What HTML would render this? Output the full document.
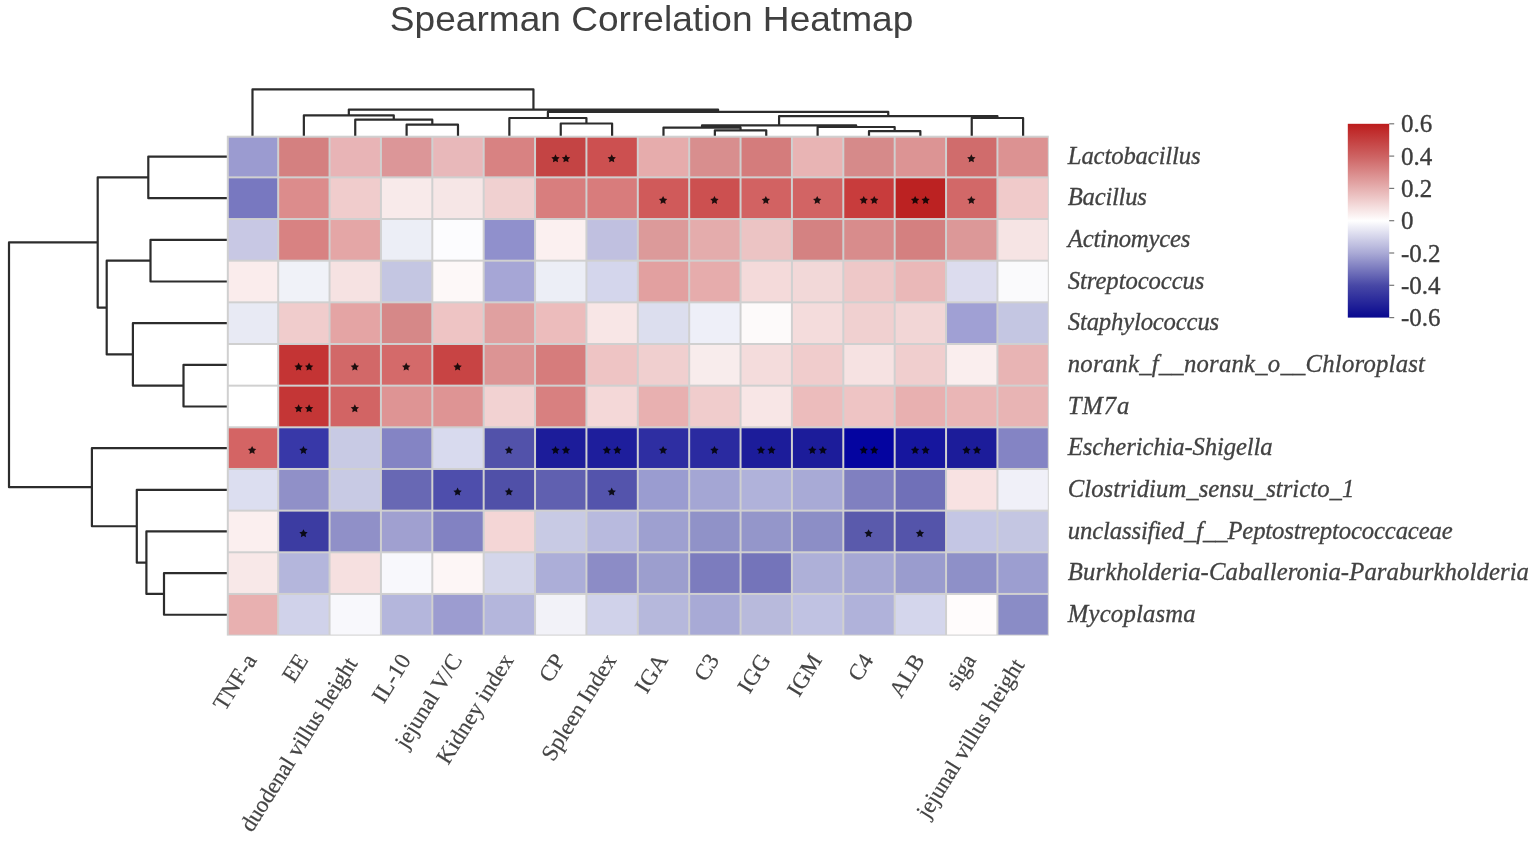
<!DOCTYPE html>
<html><head><meta charset="utf-8"><title>Spearman Correlation Heatmap</title>
<style>html,body{margin:0;padding:0;background:#fff;}body{width:1535px;height:843px;overflow:hidden;}svg{display:block;}</style>
</head><body>
<svg width="1535" height="843" viewBox="0 0 1535 843">
<rect x="226.8" y="135.7" width="822.0" height="499.90000000000003" fill="#d0d0d0"/>
<rect x="228.80" y="137.70" width="48.38" height="38.66" fill="#9b9bd0"/>
<rect x="279.18" y="137.70" width="49.38" height="38.66" fill="#d48080"/>
<rect x="330.55" y="137.70" width="49.38" height="38.66" fill="#e8b4b6"/>
<rect x="381.93" y="137.70" width="49.38" height="38.66" fill="#dc9698"/>
<rect x="433.30" y="137.70" width="49.38" height="38.66" fill="#e8b8ba"/>
<rect x="484.68" y="137.70" width="49.37" height="38.66" fill="#d88282"/>
<rect x="536.05" y="137.70" width="49.38" height="38.66" fill="#c44444"/>
<rect x="587.42" y="137.70" width="49.38" height="38.66" fill="#cc5050"/>
<rect x="638.80" y="137.70" width="49.38" height="38.66" fill="#e6acac"/>
<rect x="690.17" y="137.70" width="49.38" height="38.66" fill="#d88e8e"/>
<rect x="741.55" y="137.70" width="49.38" height="38.66" fill="#d47c7c"/>
<rect x="792.92" y="137.70" width="49.38" height="38.66" fill="#e8b4b4"/>
<rect x="844.30" y="137.70" width="49.38" height="38.66" fill="#d68a8a"/>
<rect x="895.67" y="137.70" width="49.38" height="38.66" fill="#dc9494"/>
<rect x="947.05" y="137.70" width="49.38" height="38.66" fill="#d06c6c"/>
<rect x="998.42" y="137.70" width="49.38" height="38.66" fill="#dc9292"/>
<rect x="228.80" y="178.36" width="48.38" height="39.66" fill="#7878c0"/>
<rect x="279.18" y="178.36" width="49.38" height="39.66" fill="#dc8c8c"/>
<rect x="330.55" y="178.36" width="49.38" height="39.66" fill="#f0cccc"/>
<rect x="381.93" y="178.36" width="49.38" height="39.66" fill="#f8eaea"/>
<rect x="433.30" y="178.36" width="49.38" height="39.66" fill="#f6e6e6"/>
<rect x="484.68" y="178.36" width="49.37" height="39.66" fill="#f0d0d0"/>
<rect x="536.05" y="178.36" width="49.38" height="39.66" fill="#d87e7e"/>
<rect x="587.42" y="178.36" width="49.38" height="39.66" fill="#d87c7c"/>
<rect x="638.80" y="178.36" width="49.38" height="39.66" fill="#d05a5a"/>
<rect x="690.17" y="178.36" width="49.38" height="39.66" fill="#cc5050"/>
<rect x="741.55" y="178.36" width="49.38" height="39.66" fill="#d26262"/>
<rect x="792.92" y="178.36" width="49.38" height="39.66" fill="#d26464"/>
<rect x="844.30" y="178.36" width="49.38" height="39.66" fill="#c83c3c"/>
<rect x="895.67" y="178.36" width="49.38" height="39.66" fill="#bc2222"/>
<rect x="947.05" y="178.36" width="49.38" height="39.66" fill="#d26868"/>
<rect x="998.42" y="178.36" width="49.38" height="39.66" fill="#f0caca"/>
<rect x="228.80" y="220.02" width="48.38" height="39.66" fill="#c8c8e4"/>
<rect x="279.18" y="220.02" width="49.38" height="39.66" fill="#d88282"/>
<rect x="330.55" y="220.02" width="49.38" height="39.66" fill="#e4a6a6"/>
<rect x="381.93" y="220.02" width="49.38" height="39.66" fill="#eceef6"/>
<rect x="433.30" y="220.02" width="49.38" height="39.66" fill="#fcfcfe"/>
<rect x="484.68" y="220.02" width="49.37" height="39.66" fill="#9090cc"/>
<rect x="536.05" y="220.02" width="49.38" height="39.66" fill="#fbf0f0"/>
<rect x="587.42" y="220.02" width="49.38" height="39.66" fill="#c0c0e0"/>
<rect x="638.80" y="220.02" width="49.38" height="39.66" fill="#dc9a9a"/>
<rect x="690.17" y="220.02" width="49.38" height="39.66" fill="#e4acac"/>
<rect x="741.55" y="220.02" width="49.38" height="39.66" fill="#ecc4c4"/>
<rect x="792.92" y="220.02" width="49.38" height="39.66" fill="#d48282"/>
<rect x="844.30" y="220.02" width="49.38" height="39.66" fill="#d88c8c"/>
<rect x="895.67" y="220.02" width="49.38" height="39.66" fill="#d48080"/>
<rect x="947.05" y="220.02" width="49.38" height="39.66" fill="#dc9898"/>
<rect x="998.42" y="220.02" width="49.38" height="39.66" fill="#f6e4e4"/>
<rect x="228.80" y="261.68" width="48.38" height="39.66" fill="#faecec"/>
<rect x="279.18" y="261.68" width="49.38" height="39.66" fill="#f0f2f8"/>
<rect x="330.55" y="261.68" width="49.38" height="39.66" fill="#f6e2e2"/>
<rect x="381.93" y="261.68" width="49.38" height="39.66" fill="#c4c6e2"/>
<rect x="433.30" y="261.68" width="49.38" height="39.66" fill="#fdf8f8"/>
<rect x="484.68" y="261.68" width="49.37" height="39.66" fill="#a6a6d6"/>
<rect x="536.05" y="261.68" width="49.38" height="39.66" fill="#eceef6"/>
<rect x="587.42" y="261.68" width="49.38" height="39.66" fill="#d4d6ec"/>
<rect x="638.80" y="261.68" width="49.38" height="39.66" fill="#e2a0a0"/>
<rect x="690.17" y="261.68" width="49.38" height="39.66" fill="#e6acac"/>
<rect x="741.55" y="261.68" width="49.38" height="39.66" fill="#f4dada"/>
<rect x="792.92" y="261.68" width="49.38" height="39.66" fill="#f2d8d8"/>
<rect x="844.30" y="261.68" width="49.38" height="39.66" fill="#eec8c8"/>
<rect x="895.67" y="261.68" width="49.38" height="39.66" fill="#eab8b8"/>
<rect x="947.05" y="261.68" width="49.38" height="39.66" fill="#dcdcee"/>
<rect x="998.42" y="261.68" width="49.38" height="39.66" fill="#fafafc"/>
<rect x="228.80" y="303.33" width="48.38" height="39.66" fill="#e8eaf4"/>
<rect x="279.18" y="303.33" width="49.38" height="39.66" fill="#f0cccc"/>
<rect x="330.55" y="303.33" width="49.38" height="39.66" fill="#e4a4a4"/>
<rect x="381.93" y="303.33" width="49.38" height="39.66" fill="#d68888"/>
<rect x="433.30" y="303.33" width="49.38" height="39.66" fill="#eec4c4"/>
<rect x="484.68" y="303.33" width="49.37" height="39.66" fill="#e0a0a0"/>
<rect x="536.05" y="303.33" width="49.38" height="39.66" fill="#ecbcbc"/>
<rect x="587.42" y="303.33" width="49.38" height="39.66" fill="#f8e6e6"/>
<rect x="638.80" y="303.33" width="49.38" height="39.66" fill="#dcdeee"/>
<rect x="690.17" y="303.33" width="49.38" height="39.66" fill="#eeeff8"/>
<rect x="741.55" y="303.33" width="49.38" height="39.66" fill="#fdfafa"/>
<rect x="792.92" y="303.33" width="49.38" height="39.66" fill="#f4dcdc"/>
<rect x="844.30" y="303.33" width="49.38" height="39.66" fill="#f0d0d0"/>
<rect x="895.67" y="303.33" width="49.38" height="39.66" fill="#f2d6d6"/>
<rect x="947.05" y="303.33" width="49.38" height="39.66" fill="#a0a0d4"/>
<rect x="998.42" y="303.33" width="49.38" height="39.66" fill="#c4c6e2"/>
<rect x="228.80" y="344.99" width="48.38" height="39.66" fill="#ffffff"/>
<rect x="279.18" y="344.99" width="49.38" height="39.66" fill="#c43434"/>
<rect x="330.55" y="344.99" width="49.38" height="39.66" fill="#d26868"/>
<rect x="381.93" y="344.99" width="49.38" height="39.66" fill="#d46a6a"/>
<rect x="433.30" y="344.99" width="49.38" height="39.66" fill="#c84444"/>
<rect x="484.68" y="344.99" width="49.37" height="39.66" fill="#dc9494"/>
<rect x="536.05" y="344.99" width="49.38" height="39.66" fill="#d67c7c"/>
<rect x="587.42" y="344.99" width="49.38" height="39.66" fill="#eec4c4"/>
<rect x="638.80" y="344.99" width="49.38" height="39.66" fill="#f0cfcf"/>
<rect x="690.17" y="344.99" width="49.38" height="39.66" fill="#f8ecec"/>
<rect x="741.55" y="344.99" width="49.38" height="39.66" fill="#f4dcdc"/>
<rect x="792.92" y="344.99" width="49.38" height="39.66" fill="#f0cccc"/>
<rect x="844.30" y="344.99" width="49.38" height="39.66" fill="#f6e2e2"/>
<rect x="895.67" y="344.99" width="49.38" height="39.66" fill="#f0cece"/>
<rect x="947.05" y="344.99" width="49.38" height="39.66" fill="#faeeee"/>
<rect x="998.42" y="344.99" width="49.38" height="39.66" fill="#e8b4b4"/>
<rect x="228.80" y="386.65" width="48.38" height="39.66" fill="#ffffff"/>
<rect x="279.18" y="386.65" width="49.38" height="39.66" fill="#c43636"/>
<rect x="330.55" y="386.65" width="49.38" height="39.66" fill="#d26464"/>
<rect x="381.93" y="386.65" width="49.38" height="39.66" fill="#de9494"/>
<rect x="433.30" y="386.65" width="49.38" height="39.66" fill="#de9494"/>
<rect x="484.68" y="386.65" width="49.37" height="39.66" fill="#f2d2d2"/>
<rect x="536.05" y="386.65" width="49.38" height="39.66" fill="#d88080"/>
<rect x="587.42" y="386.65" width="49.38" height="39.66" fill="#f4d8d8"/>
<rect x="638.80" y="386.65" width="49.38" height="39.66" fill="#e8b0b0"/>
<rect x="690.17" y="386.65" width="49.38" height="39.66" fill="#f0cccc"/>
<rect x="741.55" y="386.65" width="49.38" height="39.66" fill="#f8e6e6"/>
<rect x="792.92" y="386.65" width="49.38" height="39.66" fill="#ecbcbc"/>
<rect x="844.30" y="386.65" width="49.38" height="39.66" fill="#eec4c4"/>
<rect x="895.67" y="386.65" width="49.38" height="39.66" fill="#e8b0b0"/>
<rect x="947.05" y="386.65" width="49.38" height="39.66" fill="#eab6b6"/>
<rect x="998.42" y="386.65" width="49.38" height="39.66" fill="#e8b4b4"/>
<rect x="228.80" y="428.31" width="48.38" height="39.66" fill="#d46464"/>
<rect x="279.18" y="428.31" width="49.38" height="39.66" fill="#3838a8"/>
<rect x="330.55" y="428.31" width="49.38" height="39.66" fill="#c8cae4"/>
<rect x="381.93" y="428.31" width="49.38" height="39.66" fill="#8484c4"/>
<rect x="433.30" y="428.31" width="49.38" height="39.66" fill="#d8daee"/>
<rect x="484.68" y="428.31" width="49.37" height="39.66" fill="#5252aa"/>
<rect x="536.05" y="428.31" width="49.38" height="39.66" fill="#1c1c9a"/>
<rect x="587.42" y="428.31" width="49.38" height="39.66" fill="#1e1e9c"/>
<rect x="638.80" y="428.31" width="49.38" height="39.66" fill="#2e2ea2"/>
<rect x="690.17" y="428.31" width="49.38" height="39.66" fill="#2a2aa0"/>
<rect x="741.55" y="428.31" width="49.38" height="39.66" fill="#1c1c9a"/>
<rect x="792.92" y="428.31" width="49.38" height="39.66" fill="#1c1c9a"/>
<rect x="844.30" y="428.31" width="49.38" height="39.66" fill="#0404a0"/>
<rect x="895.67" y="428.31" width="49.38" height="39.66" fill="#16169e"/>
<rect x="947.05" y="428.31" width="49.38" height="39.66" fill="#1c1c9a"/>
<rect x="998.42" y="428.31" width="49.38" height="39.66" fill="#8484c4"/>
<rect x="228.80" y="469.97" width="48.38" height="39.66" fill="#dcdef0"/>
<rect x="279.18" y="469.97" width="49.38" height="39.66" fill="#9090c8"/>
<rect x="330.55" y="469.97" width="49.38" height="39.66" fill="#c8cae4"/>
<rect x="381.93" y="469.97" width="49.38" height="39.66" fill="#6868b4"/>
<rect x="433.30" y="469.97" width="49.38" height="39.66" fill="#4e4eac"/>
<rect x="484.68" y="469.97" width="49.37" height="39.66" fill="#5050a8"/>
<rect x="536.05" y="469.97" width="49.38" height="39.66" fill="#6060b0"/>
<rect x="587.42" y="469.97" width="49.38" height="39.66" fill="#5454ac"/>
<rect x="638.80" y="469.97" width="49.38" height="39.66" fill="#9a9cd0"/>
<rect x="690.17" y="469.97" width="49.38" height="39.66" fill="#a4a6d4"/>
<rect x="741.55" y="469.97" width="49.38" height="39.66" fill="#b0b2da"/>
<rect x="792.92" y="469.97" width="49.38" height="39.66" fill="#a8aad6"/>
<rect x="844.30" y="469.97" width="49.38" height="39.66" fill="#8080c0"/>
<rect x="895.67" y="469.97" width="49.38" height="39.66" fill="#7070b8"/>
<rect x="947.05" y="469.97" width="49.38" height="39.66" fill="#f8e2e2"/>
<rect x="998.42" y="469.97" width="49.38" height="39.66" fill="#f0f0f8"/>
<rect x="228.80" y="511.63" width="48.38" height="39.66" fill="#fbefef"/>
<rect x="279.18" y="511.63" width="49.38" height="39.66" fill="#3c3ca2"/>
<rect x="330.55" y="511.63" width="49.38" height="39.66" fill="#9090c8"/>
<rect x="381.93" y="511.63" width="49.38" height="39.66" fill="#a0a0d0"/>
<rect x="433.30" y="511.63" width="49.38" height="39.66" fill="#8282c2"/>
<rect x="484.68" y="511.63" width="49.37" height="39.66" fill="#f4d6d6"/>
<rect x="536.05" y="511.63" width="49.38" height="39.66" fill="#c8cae4"/>
<rect x="587.42" y="511.63" width="49.38" height="39.66" fill="#b8bade"/>
<rect x="638.80" y="511.63" width="49.38" height="39.66" fill="#9ea0d0"/>
<rect x="690.17" y="511.63" width="49.38" height="39.66" fill="#9092c8"/>
<rect x="741.55" y="511.63" width="49.38" height="39.66" fill="#9496ca"/>
<rect x="792.92" y="511.63" width="49.38" height="39.66" fill="#8c8ec6"/>
<rect x="844.30" y="511.63" width="49.38" height="39.66" fill="#5a5aac"/>
<rect x="895.67" y="511.63" width="49.38" height="39.66" fill="#5454aa"/>
<rect x="947.05" y="511.63" width="49.38" height="39.66" fill="#c4c6e4"/>
<rect x="998.42" y="511.63" width="49.38" height="39.66" fill="#c4c6e2"/>
<rect x="228.80" y="553.28" width="48.38" height="39.66" fill="#f8e8e8"/>
<rect x="279.18" y="553.28" width="49.38" height="39.66" fill="#b4b6dc"/>
<rect x="330.55" y="553.28" width="49.38" height="39.66" fill="#f6e0e0"/>
<rect x="381.93" y="553.28" width="49.38" height="39.66" fill="#f8f8fc"/>
<rect x="433.30" y="553.28" width="49.38" height="39.66" fill="#fdf6f6"/>
<rect x="484.68" y="553.28" width="49.37" height="39.66" fill="#d4d6ea"/>
<rect x="536.05" y="553.28" width="49.38" height="39.66" fill="#acaed8"/>
<rect x="587.42" y="553.28" width="49.38" height="39.66" fill="#8c8cc6"/>
<rect x="638.80" y="553.28" width="49.38" height="39.66" fill="#9c9ece"/>
<rect x="690.17" y="553.28" width="49.38" height="39.66" fill="#7c7cbe"/>
<rect x="741.55" y="553.28" width="49.38" height="39.66" fill="#7474ba"/>
<rect x="792.92" y="553.28" width="49.38" height="39.66" fill="#aeb0d8"/>
<rect x="844.30" y="553.28" width="49.38" height="39.66" fill="#a6a8d4"/>
<rect x="895.67" y="553.28" width="49.38" height="39.66" fill="#9a9cce"/>
<rect x="947.05" y="553.28" width="49.38" height="39.66" fill="#8e90c8"/>
<rect x="998.42" y="553.28" width="49.38" height="39.66" fill="#9c9ed0"/>
<rect x="228.80" y="594.94" width="48.38" height="39.66" fill="#e8b0b0"/>
<rect x="279.18" y="594.94" width="49.38" height="39.66" fill="#d0d2ea"/>
<rect x="330.55" y="594.94" width="49.38" height="39.66" fill="#f8f8fc"/>
<rect x="381.93" y="594.94" width="49.38" height="39.66" fill="#b4b6dc"/>
<rect x="433.30" y="594.94" width="49.38" height="39.66" fill="#9c9cd0"/>
<rect x="484.68" y="594.94" width="49.37" height="39.66" fill="#b4b6dc"/>
<rect x="536.05" y="594.94" width="49.38" height="39.66" fill="#f2f2f8"/>
<rect x="587.42" y="594.94" width="49.38" height="39.66" fill="#d0d2ea"/>
<rect x="638.80" y="594.94" width="49.38" height="39.66" fill="#b6b8dc"/>
<rect x="690.17" y="594.94" width="49.38" height="39.66" fill="#a8aad6"/>
<rect x="741.55" y="594.94" width="49.38" height="39.66" fill="#b8badc"/>
<rect x="792.92" y="594.94" width="49.38" height="39.66" fill="#c0c2e2"/>
<rect x="844.30" y="594.94" width="49.38" height="39.66" fill="#b0b2da"/>
<rect x="895.67" y="594.94" width="49.38" height="39.66" fill="#d4d6ec"/>
<rect x="947.05" y="594.94" width="49.38" height="39.66" fill="#fffcfc"/>
<rect x="998.42" y="594.94" width="49.38" height="39.66" fill="#8a8cc6"/>
<polygon points="555.49,154.33 556.78,156.95 559.67,157.37 557.58,159.41 558.07,162.29 555.49,160.93 552.90,162.29 553.40,159.41 551.30,157.37 554.19,156.95" fill="#000" fill-opacity="0.85"/>
<polygon points="565.99,154.33 567.28,156.95 570.17,157.37 568.08,159.41 568.57,162.29 565.99,160.93 563.40,162.29 563.90,159.41 561.80,157.37 564.69,156.95" fill="#000" fill-opacity="0.85"/>
<polygon points="611.71,154.33 613.01,156.95 615.90,157.37 613.80,159.41 614.30,162.29 611.71,160.93 609.13,162.29 609.62,159.41 607.53,157.37 610.42,156.95" fill="#000" fill-opacity="0.85"/>
<polygon points="971.34,154.33 972.63,156.95 975.52,157.37 973.43,159.41 973.92,162.29 971.34,160.93 968.75,162.29 969.25,159.41 967.15,157.37 970.04,156.95" fill="#000" fill-opacity="0.85"/>
<polygon points="663.09,195.99 664.38,198.61 667.27,199.03 665.18,201.07 665.67,203.95 663.09,202.59 660.50,203.95 661.00,201.07 658.90,199.03 661.79,198.61" fill="#000" fill-opacity="0.85"/>
<polygon points="714.46,195.99 715.76,198.61 718.65,199.03 716.55,201.07 717.05,203.95 714.46,202.59 711.88,203.95 712.37,201.07 710.28,199.03 713.17,198.61" fill="#000" fill-opacity="0.85"/>
<polygon points="765.84,195.99 767.13,198.61 770.02,199.03 767.93,201.07 768.42,203.95 765.84,202.59 763.25,203.95 763.75,201.07 761.65,199.03 764.54,198.61" fill="#000" fill-opacity="0.85"/>
<polygon points="817.21,195.99 818.51,198.61 821.40,199.03 819.30,201.07 819.80,203.95 817.21,202.59 814.63,203.95 815.12,201.07 813.03,199.03 815.92,198.61" fill="#000" fill-opacity="0.85"/>
<polygon points="863.74,195.99 865.03,198.61 867.92,199.03 865.83,201.07 866.32,203.95 863.74,202.59 861.15,203.95 861.65,201.07 859.55,199.03 862.44,198.61" fill="#000" fill-opacity="0.85"/>
<polygon points="874.24,195.99 875.53,198.61 878.42,199.03 876.33,201.07 876.82,203.95 874.24,202.59 871.65,203.95 872.15,201.07 870.05,199.03 872.94,198.61" fill="#000" fill-opacity="0.85"/>
<polygon points="915.11,195.99 916.41,198.61 919.30,199.03 917.20,201.07 917.70,203.95 915.11,202.59 912.53,203.95 913.02,201.07 910.93,199.03 913.82,198.61" fill="#000" fill-opacity="0.85"/>
<polygon points="925.61,195.99 926.91,198.61 929.80,199.03 927.70,201.07 928.20,203.95 925.61,202.59 923.03,203.95 923.52,201.07 921.43,199.03 924.32,198.61" fill="#000" fill-opacity="0.85"/>
<polygon points="971.34,195.99 972.63,198.61 975.52,199.03 973.43,201.07 973.92,203.95 971.34,202.59 968.75,203.95 969.25,201.07 967.15,199.03 970.04,198.61" fill="#000" fill-opacity="0.85"/>
<polygon points="298.61,362.62 299.91,365.24 302.80,365.66 300.70,367.70 301.20,370.58 298.61,369.22 296.03,370.58 296.52,367.70 294.43,365.66 297.32,365.24" fill="#000" fill-opacity="0.85"/>
<polygon points="309.11,362.62 310.41,365.24 313.30,365.66 311.20,367.70 311.70,370.58 309.11,369.22 306.53,370.58 307.02,367.70 304.93,365.66 307.82,365.24" fill="#000" fill-opacity="0.85"/>
<polygon points="354.84,362.62 356.13,365.24 359.02,365.66 356.93,367.70 357.42,370.58 354.84,369.22 352.25,370.58 352.75,367.70 350.65,365.66 353.54,365.24" fill="#000" fill-opacity="0.85"/>
<polygon points="406.21,362.62 407.51,365.24 410.40,365.66 408.30,367.70 408.80,370.58 406.21,369.22 403.63,370.58 404.12,367.70 402.03,365.66 404.92,365.24" fill="#000" fill-opacity="0.85"/>
<polygon points="457.59,362.62 458.88,365.24 461.77,365.66 459.68,367.70 460.17,370.58 457.59,369.22 455.00,370.58 455.50,367.70 453.40,365.66 456.29,365.24" fill="#000" fill-opacity="0.85"/>
<polygon points="298.61,404.28 299.91,406.90 302.80,407.32 300.70,409.36 301.20,412.24 298.61,410.88 296.03,412.24 296.52,409.36 294.43,407.32 297.32,406.90" fill="#000" fill-opacity="0.85"/>
<polygon points="309.11,404.28 310.41,406.90 313.30,407.32 311.20,409.36 311.70,412.24 309.11,410.88 306.53,412.24 307.02,409.36 304.93,407.32 307.82,406.90" fill="#000" fill-opacity="0.85"/>
<polygon points="354.84,404.28 356.13,406.90 359.02,407.32 356.93,409.36 357.42,412.24 354.84,410.88 352.25,412.24 352.75,409.36 350.65,407.32 353.54,406.90" fill="#000" fill-opacity="0.85"/>
<polygon points="252.09,445.94 253.38,448.56 256.27,448.98 254.18,451.02 254.67,453.90 252.09,452.54 249.50,453.90 250.00,451.02 247.90,448.98 250.79,448.56" fill="#000" fill-opacity="0.85"/>
<polygon points="303.46,445.94 304.76,448.56 307.65,448.98 305.55,451.02 306.05,453.90 303.46,452.54 300.88,453.90 301.37,451.02 299.28,448.98 302.17,448.56" fill="#000" fill-opacity="0.85"/>
<polygon points="508.96,445.94 510.26,448.56 513.15,448.98 511.05,451.02 511.55,453.90 508.96,452.54 506.38,453.90 506.87,451.02 504.78,448.98 507.67,448.56" fill="#000" fill-opacity="0.85"/>
<polygon points="555.49,445.94 556.78,448.56 559.67,448.98 557.58,451.02 558.07,453.90 555.49,452.54 552.90,453.90 553.40,451.02 551.30,448.98 554.19,448.56" fill="#000" fill-opacity="0.85"/>
<polygon points="565.99,445.94 567.28,448.56 570.17,448.98 568.08,451.02 568.57,453.90 565.99,452.54 563.40,453.90 563.90,451.02 561.80,448.98 564.69,448.56" fill="#000" fill-opacity="0.85"/>
<polygon points="606.86,445.94 608.16,448.56 611.05,448.98 608.95,451.02 609.45,453.90 606.86,452.54 604.28,453.90 604.77,451.02 602.68,448.98 605.57,448.56" fill="#000" fill-opacity="0.85"/>
<polygon points="617.36,445.94 618.66,448.56 621.55,448.98 619.45,451.02 619.95,453.90 617.36,452.54 614.78,453.90 615.27,451.02 613.18,448.98 616.07,448.56" fill="#000" fill-opacity="0.85"/>
<polygon points="663.09,445.94 664.38,448.56 667.27,448.98 665.18,451.02 665.67,453.90 663.09,452.54 660.50,453.90 661.00,451.02 658.90,448.98 661.79,448.56" fill="#000" fill-opacity="0.85"/>
<polygon points="714.46,445.94 715.76,448.56 718.65,448.98 716.55,451.02 717.05,453.90 714.46,452.54 711.88,453.90 712.37,451.02 710.28,448.98 713.17,448.56" fill="#000" fill-opacity="0.85"/>
<polygon points="760.99,445.94 762.28,448.56 765.17,448.98 763.08,451.02 763.57,453.90 760.99,452.54 758.40,453.90 758.90,451.02 756.80,448.98 759.69,448.56" fill="#000" fill-opacity="0.85"/>
<polygon points="771.49,445.94 772.78,448.56 775.67,448.98 773.58,451.02 774.07,453.90 771.49,452.54 768.90,453.90 769.40,451.02 767.30,448.98 770.19,448.56" fill="#000" fill-opacity="0.85"/>
<polygon points="812.36,445.94 813.66,448.56 816.55,448.98 814.45,451.02 814.95,453.90 812.36,452.54 809.78,453.90 810.27,451.02 808.18,448.98 811.07,448.56" fill="#000" fill-opacity="0.85"/>
<polygon points="822.86,445.94 824.16,448.56 827.05,448.98 824.95,451.02 825.45,453.90 822.86,452.54 820.28,453.90 820.77,451.02 818.68,448.98 821.57,448.56" fill="#000" fill-opacity="0.85"/>
<polygon points="863.74,445.94 865.03,448.56 867.92,448.98 865.83,451.02 866.32,453.90 863.74,452.54 861.15,453.90 861.65,451.02 859.55,448.98 862.44,448.56" fill="#000" fill-opacity="0.85"/>
<polygon points="874.24,445.94 875.53,448.56 878.42,448.98 876.33,451.02 876.82,453.90 874.24,452.54 871.65,453.90 872.15,451.02 870.05,448.98 872.94,448.56" fill="#000" fill-opacity="0.85"/>
<polygon points="915.11,445.94 916.41,448.56 919.30,448.98 917.20,451.02 917.70,453.90 915.11,452.54 912.53,453.90 913.02,451.02 910.93,448.98 913.82,448.56" fill="#000" fill-opacity="0.85"/>
<polygon points="925.61,445.94 926.91,448.56 929.80,448.98 927.70,451.02 928.20,453.90 925.61,452.54 923.03,453.90 923.52,451.02 921.43,448.98 924.32,448.56" fill="#000" fill-opacity="0.85"/>
<polygon points="966.49,445.94 967.78,448.56 970.67,448.98 968.58,451.02 969.07,453.90 966.49,452.54 963.90,453.90 964.40,451.02 962.30,448.98 965.19,448.56" fill="#000" fill-opacity="0.85"/>
<polygon points="976.99,445.94 978.28,448.56 981.17,448.98 979.08,451.02 979.57,453.90 976.99,452.54 974.40,453.90 974.90,451.02 972.80,448.98 975.69,448.56" fill="#000" fill-opacity="0.85"/>
<polygon points="457.59,487.60 458.88,490.22 461.77,490.64 459.68,492.68 460.17,495.56 457.59,494.20 455.00,495.56 455.50,492.68 453.40,490.64 456.29,490.22" fill="#000" fill-opacity="0.85"/>
<polygon points="508.96,487.60 510.26,490.22 513.15,490.64 511.05,492.68 511.55,495.56 508.96,494.20 506.38,495.56 506.87,492.68 504.78,490.64 507.67,490.22" fill="#000" fill-opacity="0.85"/>
<polygon points="611.71,487.60 613.01,490.22 615.90,490.64 613.80,492.68 614.30,495.56 611.71,494.20 609.13,495.56 609.62,492.68 607.53,490.64 610.42,490.22" fill="#000" fill-opacity="0.85"/>
<polygon points="303.46,529.25 304.76,531.87 307.65,532.29 305.55,534.33 306.05,537.21 303.46,535.85 300.88,537.21 301.37,534.33 299.28,532.29 302.17,531.87" fill="#000" fill-opacity="0.85"/>
<polygon points="868.59,529.25 869.88,531.87 872.77,532.29 870.68,534.33 871.17,537.21 868.59,535.85 866.00,537.21 866.50,534.33 864.40,532.29 867.29,531.87" fill="#000" fill-opacity="0.85"/>
<polygon points="919.96,529.25 921.26,531.87 924.15,532.29 922.05,534.33 922.55,537.21 919.96,535.85 917.38,537.21 917.87,534.33 915.78,532.29 918.67,531.87" fill="#000" fill-opacity="0.85"/>
<path d="M406.61,135.70V124.70H457.99V135.70M355.24,135.70V119.70H432.30V124.70M303.86,135.70V115.30H393.77V119.70M560.74,135.70V123.50H612.11V135.70M509.36,135.70V118.00H586.42V123.50M714.86,135.70V130.30H766.24V135.70M663.49,135.70V127.60H740.55V130.30M868.99,135.70V131.10H920.36V135.70M817.61,135.70V127.00H894.67V131.10M702.02,127.60V125.30H856.14V127.00M971.74,135.70V118.00H1023.11V135.70M779.08,125.30V116.10H997.42V118.00M547.89,118.00V111.80H888.25V116.10M348.82,115.30V109.60H718.07V111.80M252.49,135.70V89.30H533.44V109.60M226.80,156.53H148.30V198.19H226.80M226.80,239.85H150.50V281.50H226.80M226.80,364.82H183.50V406.48H226.80M226.80,323.16H132.90V385.65H183.50M150.50,260.68H106.70V354.41H132.90M148.30,177.36H97.70V307.54H106.70M226.80,573.11H164.00V614.77H226.80M226.80,531.45H146.40V593.94H164.00M226.80,489.80H136.80V562.70H146.40M226.80,448.14H91.90V526.25H136.80M97.70,242.45H9.00V487.19H91.90" fill="none" stroke="#2c2c2c" stroke-width="2.2" stroke-linejoin="round" stroke-linecap="butt"/>
<defs><linearGradient id="cb" x1="0" y1="0" x2="0" y2="1"><stop offset="0" stop-color="#bc1c1c"/><stop offset="0.1667" stop-color="#cd6262"/><stop offset="0.3333" stop-color="#e6b0b0"/><stop offset="0.5" stop-color="#ffffff"/><stop offset="0.6667" stop-color="#aaaad6"/><stop offset="0.8333" stop-color="#4848a6"/><stop offset="1" stop-color="#08088f"/></linearGradient></defs>
<rect x="1347.8" y="123.8" width="41.40000000000009" height="193.8" fill="url(#cb)"/>
<line x1="1389.2" y1="123.80" x2="1394.2" y2="123.80" stroke="#777" stroke-width="1.2"/>
<text x="1401" y="132.30" font-family="Liberation Serif, serif" font-size="25" fill="#3c3c3c" stroke="#3c3c3c" stroke-width="0.35">0.6</text>
<line x1="1389.2" y1="156.10" x2="1394.2" y2="156.10" stroke="#777" stroke-width="1.2"/>
<text x="1401" y="164.60" font-family="Liberation Serif, serif" font-size="25" fill="#3c3c3c" stroke="#3c3c3c" stroke-width="0.35">0.4</text>
<line x1="1389.2" y1="188.40" x2="1394.2" y2="188.40" stroke="#777" stroke-width="1.2"/>
<text x="1401" y="196.90" font-family="Liberation Serif, serif" font-size="25" fill="#3c3c3c" stroke="#3c3c3c" stroke-width="0.35">0.2</text>
<line x1="1389.2" y1="220.70" x2="1394.2" y2="220.70" stroke="#777" stroke-width="1.2"/>
<text x="1401" y="229.20" font-family="Liberation Serif, serif" font-size="25" fill="#3c3c3c" stroke="#3c3c3c" stroke-width="0.35">0</text>
<line x1="1389.2" y1="253.00" x2="1394.2" y2="253.00" stroke="#777" stroke-width="1.2"/>
<text x="1401" y="261.50" font-family="Liberation Serif, serif" font-size="25" fill="#3c3c3c" stroke="#3c3c3c" stroke-width="0.35">-0.2</text>
<line x1="1389.2" y1="285.30" x2="1394.2" y2="285.30" stroke="#777" stroke-width="1.2"/>
<text x="1401" y="293.80" font-family="Liberation Serif, serif" font-size="25" fill="#3c3c3c" stroke="#3c3c3c" stroke-width="0.35">-0.4</text>
<line x1="1389.2" y1="317.60" x2="1394.2" y2="317.60" stroke="#777" stroke-width="1.2"/>
<text x="1401" y="326.10" font-family="Liberation Serif, serif" font-size="25" fill="#3c3c3c" stroke="#3c3c3c" stroke-width="0.35">-0.6</text>
<text x="389.8" y="31.3" font-family="Liberation Sans, Arial, sans-serif" font-size="35" fill="#404040" transform="translate(389.8 0) scale(1.06 1) translate(-389.8 0)">Spearman Correlation Heatmap</text>
<text x="1067.8" y="163.83" font-family="Liberation Serif, serif" font-style="italic" font-size="24.7" fill="#424242" stroke="#424242" stroke-width="0.3" textLength="132.82" lengthAdjust="spacing">Lactobacillus</text>
<text x="1067.8" y="205.49" font-family="Liberation Serif, serif" font-style="italic" font-size="24.7" fill="#424242" stroke="#424242" stroke-width="0.3" textLength="79.02" lengthAdjust="spacing">Bacillus</text>
<text x="1067.8" y="247.15" font-family="Liberation Serif, serif" font-style="italic" font-size="24.7" fill="#424242" stroke="#424242" stroke-width="0.3" textLength="122.47" lengthAdjust="spacing">Actinomyces</text>
<text x="1067.8" y="288.80" font-family="Liberation Serif, serif" font-style="italic" font-size="24.7" fill="#424242" stroke="#424242" stroke-width="0.3" textLength="136.68" lengthAdjust="spacing">Streptococcus</text>
<text x="1067.8" y="330.46" font-family="Liberation Serif, serif" font-style="italic" font-size="24.7" fill="#424242" stroke="#424242" stroke-width="0.3" textLength="151.36" lengthAdjust="spacing">Staphylococcus</text>
<text x="1067.8" y="372.12" font-family="Liberation Serif, serif" font-style="italic" font-size="24.7" fill="#424242" stroke="#424242" stroke-width="0.3" textLength="357.12" lengthAdjust="spacing">norank_f__norank_o__Chloroplast</text>
<text x="1067.8" y="413.78" font-family="Liberation Serif, serif" font-style="italic" font-size="24.7" fill="#424242" stroke="#424242" stroke-width="0.3" textLength="61.48" lengthAdjust="spacing">TM7a</text>
<text x="1067.8" y="455.44" font-family="Liberation Serif, serif" font-style="italic" font-size="24.7" fill="#424242" stroke="#424242" stroke-width="0.3" textLength="204.86" lengthAdjust="spacing">Escherichia-Shigella</text>
<text x="1067.8" y="497.10" font-family="Liberation Serif, serif" font-style="italic" font-size="24.7" fill="#424242" stroke="#424242" stroke-width="0.3" textLength="286.51" lengthAdjust="spacing">Clostridium_sensu_stricto_1</text>
<text x="1067.8" y="538.75" font-family="Liberation Serif, serif" font-style="italic" font-size="24.7" fill="#424242" stroke="#424242" stroke-width="0.3" textLength="384.86" lengthAdjust="spacing">unclassified_f__Peptostreptococcaceae</text>
<text x="1067.8" y="580.41" font-family="Liberation Serif, serif" font-style="italic" font-size="24.7" fill="#424242" stroke="#424242" stroke-width="0.3" textLength="461.14" lengthAdjust="spacing">Burkholderia-Caballeronia-Paraburkholderia</text>
<text x="1067.8" y="622.07" font-family="Liberation Serif, serif" font-style="italic" font-size="24.7" fill="#424242" stroke="#424242" stroke-width="0.3" textLength="127.86" lengthAdjust="spacing">Mycoplasma</text>
<text x="0" y="0" text-anchor="end" font-family="Liberation Serif, serif" font-size="23" fill="#444" stroke="#444" stroke-width="0.2" transform="translate(257.49 660.00) rotate(-58)">TNF-a</text>
<text x="0" y="0" text-anchor="end" font-family="Liberation Serif, serif" font-size="23" fill="#444" stroke="#444" stroke-width="0.2" transform="translate(308.86 660.00) rotate(-58)">EE</text>
<text x="0" y="0" text-anchor="end" font-family="Liberation Serif, serif" font-size="23" fill="#444" stroke="#444" stroke-width="0.2" transform="translate(358.12 663.39) rotate(-58)" textLength="200.4" lengthAdjust="spacing">duodenal villus height</text>
<text x="0" y="0" text-anchor="end" font-family="Liberation Serif, serif" font-size="23" fill="#444" stroke="#444" stroke-width="0.2" transform="translate(411.61 660.00) rotate(-58)">IL-10</text>
<text x="0" y="0" text-anchor="end" font-family="Liberation Serif, serif" font-size="23" fill="#444" stroke="#444" stroke-width="0.2" transform="translate(462.99 660.00) rotate(-58)">jejunal V/C</text>
<text x="0" y="0" text-anchor="end" font-family="Liberation Serif, serif" font-size="23" fill="#444" stroke="#444" stroke-width="0.2" transform="translate(514.36 660.00) rotate(-58)">Kidney index</text>
<text x="0" y="0" text-anchor="end" font-family="Liberation Serif, serif" font-size="23" fill="#444" stroke="#444" stroke-width="0.2" transform="translate(565.74 660.00) rotate(-58)">CP</text>
<text x="0" y="0" text-anchor="end" font-family="Liberation Serif, serif" font-size="23" fill="#444" stroke="#444" stroke-width="0.2" transform="translate(617.11 660.00) rotate(-58)">Spleen Index</text>
<text x="0" y="0" text-anchor="end" font-family="Liberation Serif, serif" font-size="23" fill="#444" stroke="#444" stroke-width="0.2" transform="translate(668.49 660.00) rotate(-58)">IGA</text>
<text x="0" y="0" text-anchor="end" font-family="Liberation Serif, serif" font-size="23" fill="#444" stroke="#444" stroke-width="0.2" transform="translate(719.86 660.00) rotate(-58)">C3</text>
<text x="0" y="0" text-anchor="end" font-family="Liberation Serif, serif" font-size="23" fill="#444" stroke="#444" stroke-width="0.2" transform="translate(771.24 660.00) rotate(-58)">IGG</text>
<text x="0" y="0" text-anchor="end" font-family="Liberation Serif, serif" font-size="23" fill="#444" stroke="#444" stroke-width="0.2" transform="translate(822.61 660.00) rotate(-58)">IGM</text>
<text x="0" y="0" text-anchor="end" font-family="Liberation Serif, serif" font-size="23" fill="#444" stroke="#444" stroke-width="0.2" transform="translate(873.99 660.00) rotate(-58)">C4</text>
<text x="0" y="0" text-anchor="end" font-family="Liberation Serif, serif" font-size="23" fill="#444" stroke="#444" stroke-width="0.2" transform="translate(925.36 660.00) rotate(-58)">ALB</text>
<text x="0" y="0" text-anchor="end" font-family="Liberation Serif, serif" font-size="23" fill="#444" stroke="#444" stroke-width="0.2" transform="translate(976.74 660.00) rotate(-58)">siga</text>
<text x="0" y="0" text-anchor="end" font-family="Liberation Serif, serif" font-size="23" fill="#444" stroke="#444" stroke-width="0.2" transform="translate(1025.07 664.88) rotate(-58)">jejunal villus height</text>
</svg>
</body></html>
